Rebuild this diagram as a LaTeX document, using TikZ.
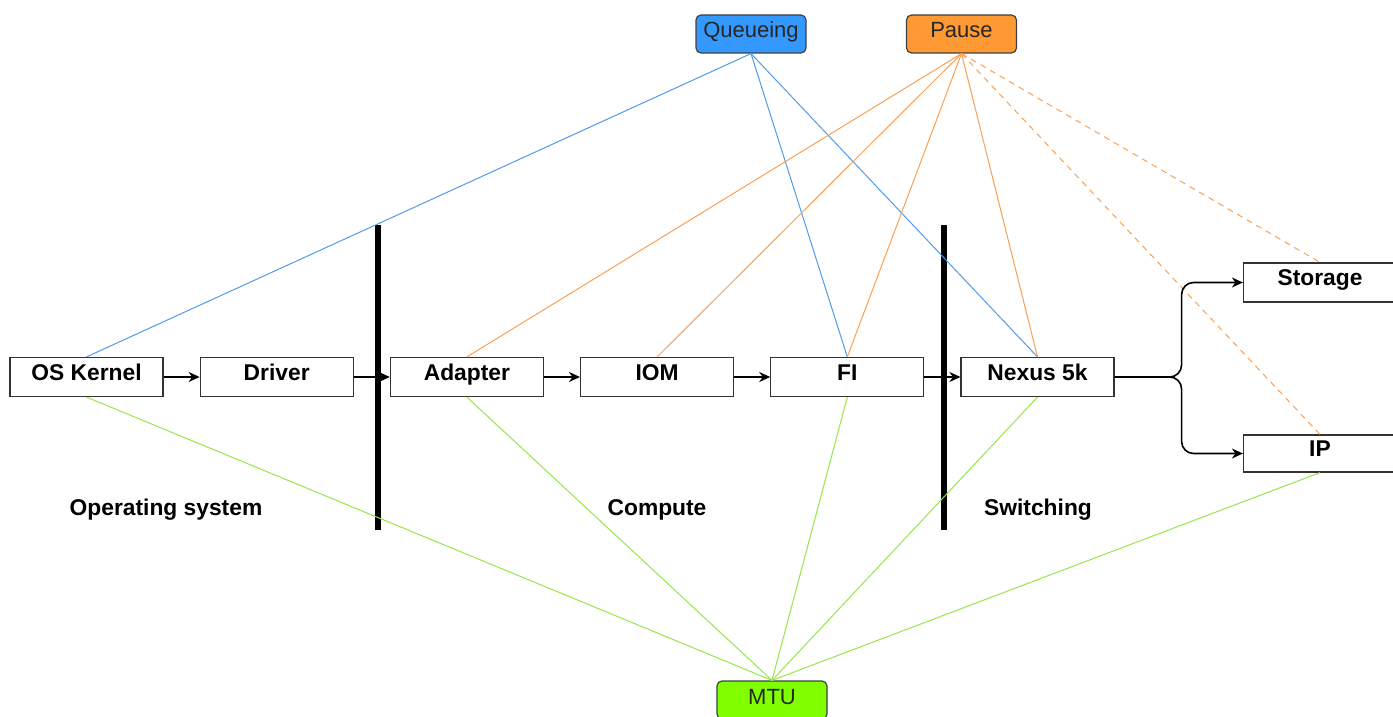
\documentclass[tikz,border=0pt]{standalone}
\usepackage{fontspec}
\setmainfont{Liberation Sans}
\usepackage{tikz}
\usetikzlibrary{arrows.meta, positioning}

\definecolor{qfill}{RGB}{51,153,255}
\definecolor{pfill}{RGB}{255,153,51}
\definecolor{mfill}{RGB}{128,255,0}
\definecolor{qline}{RGB}{80,155,235}
\definecolor{pline}{RGB}{250,160,85}
\definecolor{mline}{RGB}{150,230,70}

\begin{document}
\begin{tikzpicture}[
      x=0.5pt, y=-0.5pt,
      node distance=18pt,
      every node/.style={font=\fontsize{11.4}{13}\selectfont},
      stage/.style={rectangle, draw=black!80, fill=white, line width=0.6pt, minimum width=76.5pt, minimum height=19.5pt, inner sep=0pt, text height=8pt, text depth=5pt, font=\fontsize{11.4}{13}\selectfont\bfseries},
      tag/.style={rectangle, rounded corners=2.5pt, draw=black!75, line width=0.6pt, minimum width=55pt, minimum height=19pt, inner sep=0pt, text height=8pt, text depth=4pt, text=black!85, font=\fontsize{11}{13}\selectfont},
      zone/.style={font=\fontsize{11.4}{13}\selectfont\bfseries},
      flow/.style={-{Stealth[length=5.5pt, width=5pt]}, line width=0.8pt},
      bar/.style={line width=3pt},
      queue/.style={draw=qline, line width=0.5pt},
      pause/.style={draw=pline, line width=0.5pt},
      mtu/.style={draw=mline, line width=0.5pt}
    ]
    \useasboundingbox (0,0) rectangle (1393,717);

    % pipeline boxes
    \node[stage] (kernel) at (86.5,377) {OS Kernel};
    \node[stage, right=of kernel] (driver) {Driver};
    \node[stage, right=of driver] (adapter) {Adapter};
    \node[stage, right=of adapter] (iom) {IOM};
    \node[stage, right=of iom] (fi) {FI};
    \node[stage, right=of fi] (nexus) {Nexus 5k};
    \node[stage] (storage) at (1320,282.5) {Storage};
    \node[stage, minimum height=18.5pt] (ip) at (1320,453.5) {IP};

    % concern tags
    \node[tag, fill=qfill] (queueing) at (751,34) {Queueing};
    \node[tag, fill=pfill] (pausetag) at (961.5,34) {Pause};
    \node[tag, fill=mfill] (mtutag) at (772,700) {MTU};

    % zone labels
    \node[zone] (os) at (166,510) {Operating system};
    \node[zone] (compute) at (657,510) {Compute};
    \node[zone] (switching) at (1038,510) {Switching};

    % zone borders
    \draw[bar] (378,225) -- (378,530);
    \draw[bar] (944,225) -- (944,530);

    % queueing
    \foreach \t in {kernel, fi, nexus}
      \draw[queue] (queueing.south) -- (\t.north);

    % pause
    \foreach \t in {adapter, iom, fi, nexus}
      \draw[pause] (pausetag.south) -- (\t.north);
    \foreach \t in {storage, ip}
      \draw[pause, dash pattern=on 3pt off 2.5pt] (pausetag.south) -- (\t.north);

    % mtu
    \foreach \t in {kernel, adapter, fi, nexus, ip}
      \draw[mtu] (mtutag.north) -- (\t.south);

    % data path
    \draw[flow] (kernel) -- (driver);
    \draw[flow] (driver) -- (adapter);
    \draw[flow] (adapter) -- (iom);
    \draw[flow] (iom) -- (fi);
    \draw[flow] (fi) -- (nexus);
    \coordinate[right=33.5pt of nexus.east] (fork);
    \draw[flow, rounded corners=6pt] (nexus.east) -- (fork) |- (storage.west);
    \draw[flow, rounded corners=6pt] (nexus.east) -- (fork) |- (ip.west);
\end{tikzpicture}
\end{document}
